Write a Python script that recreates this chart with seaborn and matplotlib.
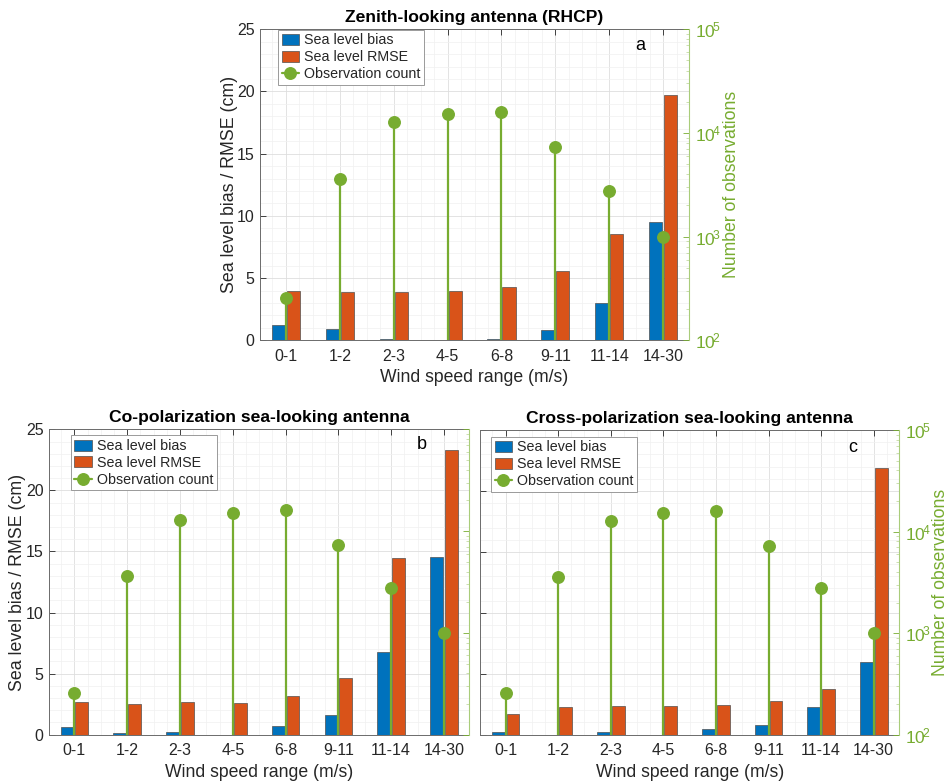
import numpy as np
import pandas as pd
import matplotlib
matplotlib.use('Agg')
import matplotlib.pyplot as plt
import seaborn as sns
from matplotlib.patches import Patch
from matplotlib.lines import Line2D
from matplotlib.ticker import MultipleLocator, LogLocator, NullFormatter, FuncFormatter

categories = ['0-1', '1-2', '2-3', '4-5', '6-8', '9-11', '11-14', '14-30']
obs_count = [258, 3600, 12850, 15140, 16070, 7270, 2760, 1000]

bias_a = [1.20, 0.91, 0.10, 0.0, 0.08, 0.86, 2.97, 9.51]
rmse_a = [3.97, 3.86, 3.86, 3.97, 4.29, 5.57, 8.52, 19.72]
bias_b = [0.63, 0.11, 0.25, 0.0, 0.68, 1.61, 6.74, 14.55]
rmse_b = [2.65, 2.54, 2.65, 2.62, 3.14, 4.61, 14.49, 23.28]
bias_c = [0.19, 0.0, 0.19, 0.0, 0.44, 0.79, 2.24, 5.96]
rmse_c = [1.67, 2.24, 2.32, 2.32, 2.43, 2.74, 3.75, 21.88]

titles = ['Zenith-looking antenna (RHCP)',
          'Co-polarization sea-looking antenna',
          'Cross-polarization sea-looking antenna']
panel_letters = ['a', 'b', 'c']
metric_names = ['Sea level bias', 'Sea level RMSE', 'Observation count']

sns.set_theme(style='white')
plt.rcParams['font.family'] = ['Liberation Sans', 'DejaVu Sans']
plt.rcParams['mathtext.default'] = 'regular'
plt.rcParams['mathtext.fontset'] = 'custom'
plt.rcParams['mathtext.rm'] = 'Liberation Sans'
plt.rcParams['mathtext.it'] = 'Liberation Sans'

BLUE = '#0072BD'
ORANGE = '#D95319'
GREEN = '#77AC30'
TXT = '#262626'
SPINE = '#6b6b6b'

fig = plt.figure(figsize=(9.5, 7.81), dpi=100)
positions = [
    [0.2737, 0.5643, 0.4516, 0.3982],
    [0.0516, 0.0593, 0.4424, 0.3910],
    [0.5056, 0.0593, 0.4407, 0.3901],
]
data_sets = [(bias_a, rmse_a), (bias_b, rmse_b), (bias_c, rmse_c)]
legend_anchor = [(0.042, 0.998), (0.052, 0.98), (0.026, 0.978)]
letter_pos = [(0.887, 0.947), (0.887, 0.949), (0.889, 0.943)]
left_label_x = [-0.070, -0.074, None]


def pow_fmt(v, p):
    return r'$10^{\!%d}$' % int(round(np.log10(v)))


for i, (pos, (bias, rmse)) in enumerate(zip(positions, data_sets)):
    ax = fig.add_axes(pos)
    df = pd.DataFrame({
        'Wind': categories * 2,
        'Value': list(bias) + list(rmse),
        'Metric': [metric_names[0]] * len(categories) + [metric_names[1]] * len(categories),
    })
    sns.barplot(data=df, x='Wind', y='Value', hue='Metric', order=categories,
                hue_order=metric_names[:2], palette=[BLUE, ORANGE], saturation=1,
                width=0.56, gap=0.13, errorbar=None, edgecolor='#505050',
                linewidth=0.5, legend=False, ax=ax)
    ax.set_xlim(-0.48, 7.48)
    ax.set_ylim(0, 25)
    ax.yaxis.set_major_locator(MultipleLocator(5))
    ax.yaxis.set_minor_locator(MultipleLocator(1))
    ax.xaxis.set_minor_locator(MultipleLocator(0.25))
    ax.set_axisbelow(True)
    ax.grid(which='major', color='#dedede', lw=0.6)
    ax.grid(which='minor', color='#f0f0f0', lw=0.5)
    ax.tick_params(axis='both', which='major', direction='in', labelsize=11.5,
                   colors=TXT, length=4, width=0.6, top=True, pad=6)
    ax.tick_params(axis='y', which='major', pad=4)
    ax.tick_params(axis='both', which='minor', length=0)
    for s in ax.spines.values():
        s.set_color(SPINE)
        s.set_linewidth(0.7)
    ax.set_xlabel('Wind speed range (m/s)', fontsize=12.7, color=TXT, labelpad=4)
    if i < 2:
        ax.set_ylabel('Sea level bias / RMSE (cm)', fontsize=12.8, color=TXT)
        ax.yaxis.set_label_coords(left_label_x[i], 0.5)
        ax.yaxis.label.set_verticalalignment('center')
    else:
        ax.set_ylabel('')
        ax.tick_params(axis='y', labelleft=False)
    ax.set_title(titles[i], fontsize=12.6, fontweight='bold', color='black', pad=5)
    ax.text(letter_pos[i][0], letter_pos[i][1], panel_letters[i], transform=ax.transAxes,
            fontsize=13, ha='center', va='center', color='black')

    ax2 = ax.twinx()
    ax2.set_yscale('log')
    ax2.set_ylim(1e2, 1e5)
    xpos = np.arange(len(categories))
    ax2.vlines(xpos, 1e2, obs_count, color=GREEN, lw=1.6, zorder=2)
    ax2.plot(xpos, obs_count, 'o', color=GREEN, ms=8.3, zorder=3)
    ax2.yaxis.set_major_locator(LogLocator(base=10, numticks=10))
    ax2.yaxis.set_minor_locator(LogLocator(base=10, subs=np.arange(2, 10), numticks=20))
    ax2.yaxis.set_minor_formatter(NullFormatter())
    ax2.yaxis.set_major_formatter(FuncFormatter(pow_fmt))
    ax2.tick_params(axis='y', which='major', direction='in', length=4, width=0.6,
                    colors=GREEN, labelsize=12.5, pad=4)
    ax2.tick_params(axis='y', which='minor', direction='in', length=2.5, width=0.5,
                    colors='#b6d38e')
    for s in ['left', 'top', 'bottom']:
        ax2.spines[s].set_visible(False)
    ax2.spines['right'].set_color('#a9cc7a')
    ax2.spines['right'].set_linewidth(0.8)
    if i == 1:
        ax2.tick_params(axis='y', labelright=False)
        ax2.set_ylabel('')
    else:
        ax2.set_ylabel('Number of observations', fontsize=12.7, color=GREEN)
        ax2.yaxis.set_label_coords(1.1, 0.5)
        ax2.yaxis.label.set_verticalalignment('center')
    ax2.set_xlim(-0.48, 7.48)

    handles = [
        Patch(facecolor=BLUE, edgecolor='#505050', linewidth=0.5),
        Patch(facecolor=ORANGE, edgecolor='#505050', linewidth=0.5),
        Line2D([0], [0], color=GREEN, lw=1.6, marker='o', ms=8.3),
    ]
    leg = ax2.legend(handles, metric_names, loc='upper left',
                     bbox_to_anchor=legend_anchor[i], borderaxespad=0,
                     fontsize=10.3, frameon=True, fancybox=False, framealpha=1,
                     edgecolor='#9a9a9a', handlelength=1.2, handleheight=0.8,
                     handletextpad=0.35, labelspacing=0.2, borderpad=0.25)
    leg.get_frame().set_linewidth(0.7)

fig.savefig('out.png', dpi=100)
